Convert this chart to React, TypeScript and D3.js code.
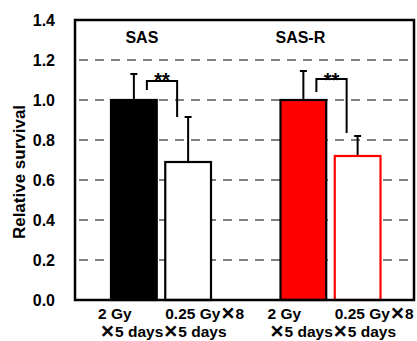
import React from "react";
import * as d3 from "d3";

// cell lines (x groups) and treatments (bars within a group)
const groups = ["SAS", "SAS-R"];
const treatments = ["2 Gy x5 days", "0.25 Gy x8 x5 days"];
const labelLine1 = ["2 Gy", "0.25 Gy"];
const labelLine1Tail = ["", "8"];
const labelLine2 = ["5 days", "5 days"];

// relative survival, [group][treatment]
const means = [
  [1.0, 0.69],
  [1.0, 0.72],
];
const errs = [
  [0.13, 0.225],
  [0.145, 0.1],
];

// significance brackets per group: [left leg bottom, top, right leg bottom]
const brackets = [
  [1.05, 1.095, 0.915],
  [1.04, 1.105, 0.835],
];

const yTicks = [0, 0.2, 0.4, 0.6, 0.8, 1.0, 1.2, 1.4];

const W = 417;
const H = 341;
const m = { left: 75, right: 3, top: 20, bottom: 41 };
const font = "'Liberation Sans', Arial, sans-serif";
const cjk = "'Noto Sans CJK JP', sans-serif";

export default function App() {
  const x0 = d3
    .scaleBand<string>()
    .domain(groups)
    .range([m.left, W - m.right]);
  const x1 = d3
    .scaleBand<string>()
    .domain(treatments)
    .range([35, 137])
    .paddingInner(0.12);
  const y = d3.scaleLinear().domain([0, 1.4]).range([H - m.bottom, m.top]);

  const bw = x1.bandwidth();
  const fills = [
    ["#000000", "#ffffff"],
    ["#ff0000", "#ffffff"],
  ];
  const strokes = [
    ["#000000", "#000000"],
    ["#000000", "#ff0000"],
  ];
  const groupLabelShift = [8, -3];
  const line1Shift = [-12, 1];
  const line2Shift = [-10, -1];
  const legShift = [13, -11];

  // full-width multiplication sign, thickened to look bold
  const times = (
    <tspan fontFamily={cjk} fontSize={15} stroke="#000" strokeWidth={0.9}>
      ×
    </tspan>
  );

  return (
    <svg
      width={W}
      height={H}
      style={{ position: "absolute", left: 0, top: 0, background: "#fff" }}
      fontFamily={font}
      fontWeight="bold"
    >
      {/* grid */}
      {yTicks
        .filter((t) => t > 0 && t < 1.4)
        .map((t) => (
          <line
            key={t}
            x1={m.left}
            x2={W - m.right}
            y1={y(t)}
            y2={y(t)}
            stroke="#808080"
            strokeWidth={2}
            strokeDasharray="9,7"
            strokeDashoffset={-4}
          />
        ))}

      {/* y tick labels */}
      {yTicks.map((t) => (
        <text
          key={t}
          x={55}
          y={y(t)}
          dy="0.36em"
          textAnchor="end"
          fontSize={16}
          fill="#000"
        >
          {d3.format(".1f")(t)}
        </text>
      ))}

      <text
        transform={`translate(25,${172}) rotate(-90)`}
        textAnchor="middle"
        fontSize={17}
      >
        Relative survival
      </text>

      {groups.map((g, gi) => {
        const gx = x0(g)!;
        const c0 = gx + x1(treatments[0])! + bw / 2;
        const c1 = gx + x1(treatments[1])! + bw / 2;
        const [lb, top, rb] = brackets[gi];
        const lx = c0 + legShift[0];
        const rx = c1 + legShift[1];
        return (
          <g key={g}>
            <text x={c0 + groupLabelShift[gi]} y={43} textAnchor="middle" fontSize={16}>
              {g}
            </text>
            {treatments.map((tr, ti) => {
              const bx = gx + x1(tr)!;
              const cx = bx + bw / 2;
              const v = means[gi][ti];
              const e = errs[gi][ti];
              return (
                <g key={tr}>
                  <line x1={cx} x2={cx} y1={y(v)} y2={y(v + e)} stroke="#000" strokeWidth={2} />
                  <line x1={cx - 3.5} x2={cx + 3.5} y1={y(v + e)} y2={y(v + e)} stroke="#000" strokeWidth={2} />
                  <rect
                    x={bx + 1}
                    y={y(v)}
                    width={bw - 2}
                    height={y(0) - y(v)}
                    fill={fills[gi][ti]}
                    stroke={strokes[gi][ti]}
                    strokeWidth={2.2}
                  />
                  <text x={bx + line1Shift[ti]} y={319} fontSize={15.5}>
                    {labelLine1[ti]}
                    {labelLine1Tail[ti] && (
                      <>
                        {times}
                        <tspan>{labelLine1Tail[ti]}</tspan>
                      </>
                    )}
                  </text>
                  <text x={bx + line2Shift[ti]} y={337} fontSize={15.5}>
                    {times}
                    {labelLine2[ti]}
                  </text>
                </g>
              );
            })}
            <path
              d={`M${lx},${y(lb)}V${y(top)}H${rx}V${y(rb)}`}
              fill="none"
              stroke="#000"
              strokeWidth={2}
            />
            <text x={(lx + rx) / 2} y={87} textAnchor="middle" fontSize={20}>
              **
            </text>
          </g>
        );
      })}

      {/* frame */}
      <rect
        x={m.left}
        y={m.top}
        width={W - m.left - m.right}
        height={H - m.top - m.bottom}
        fill="none"
        stroke="#000"
        strokeWidth={2.5}
      />
    </svg>
  );
}
